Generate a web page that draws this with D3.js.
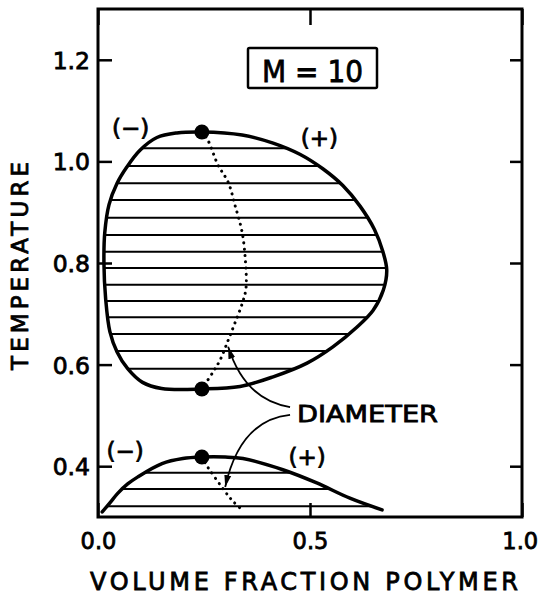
<!DOCTYPE html>
<html>
<head>
<meta charset="utf-8">
<script src="https://cdn.jsdelivr.net/npm/d3@7"></script>
<style>
  html, body { margin: 0; padding: 0; background: #fff; }
  svg { display: block; }
  text { font-family: "DejaVu Sans", sans-serif; fill: #000; stroke: #000; stroke-width: 0.8px; }
</style>
</head>
<body>
<svg id="chart" width="540" height="595"></svg>
<script>
// Phase diagram of a polymer solution, M = 10: closed miscibility loop and lower two-phase region

const xTickValues = [0, 0.5, 1.0];
const xTickLabels = ["0.0", "0.5", "1.0"];
const yTickValues = [0.4, 0.6, 0.8, 1.0, 1.2];
const yTickLabels = ["0.4", "0.6", "0.8", "1.0", "1.2"];

// Closed loop boundary (volume fraction, temperature), traversed once around
const loopPhi = [0.245, 0.150, 0.105, 0.070, 0.045, 0.028, 0.018, 0.014, 0.016, 0.026, 0.045, 0.068, 0.099, 0.139, 0.186,
                 0.245, 0.340, 0.413, 0.476, 0.531, 0.578, 0.618, 0.652, 0.672, 0.681, 0.673, 0.649, 0.611, 0.554, 0.493, 0.413, 0.335];
const loopT   = [0.552, 0.553, 0.565, 0.592, 0.625, 0.665, 0.730, 0.800, 0.860, 0.915, 0.957, 0.989, 1.022, 1.047, 1.056,
                 1.058, 1.052, 1.036, 1.014, 0.985, 0.952, 0.912, 0.866, 0.822, 0.786, 0.747, 0.707, 0.674, 0.635, 0.603, 0.576, 0.557];

// Lower coexistence curve
const lowerPhi = [0.010, 0.030, 0.047, 0.070, 0.094, 0.151, 0.200, 0.245, 0.300, 0.342, 0.436, 0.516, 0.594, 0.670];
const lowerT   = [0.310, 0.330, 0.347, 0.365, 0.379, 0.405, 0.415, 0.418, 0.418, 0.415, 0.393, 0.367, 0.337, 0.314];

// Tie lines (temperatures)
const loopTieT  = [1.026, 0.991, 0.957, 0.924, 0.889, 0.855, 0.822, 0.790, 0.757, 0.725, 0.693, 0.660, 0.627, 0.592];
const lowerTieT = [0.387, 0.355, 0.321];

// Critical points
const criticalPhi = [0.245, 0.245, 0.245];
const criticalT   = [1.058, 0.552, 0.418];

// Rectilinear diameters
const diamLoopPhi = [0.245, 0.259, 0.283, 0.307, 0.323, 0.340, 0.348, 0.349, 0.340, 0.323, 0.307, 0.288, 0.271, 0.245];
const diamLoopT   = [1.058, 1.042, 0.993, 0.959, 0.914, 0.860, 0.800, 0.750, 0.720, 0.682, 0.648, 0.609, 0.585, 0.552];
const diamLowerPhi = [0.245, 0.259, 0.292, 0.316, 0.340];
const diamLowerT   = [0.418, 0.398, 0.359, 0.333, 0.314];

// Phase sign labels
const signText = ["(−)", "(+)", "(−)", "(+)"];
const signPhi  = [0.077, 0.522, 0.064, 0.493];
const signT    = [1.050, 1.030, 0.414, 0.402];

// "DIAMETER" callout arrows: start, control, tip
const arrowPhi = [[0.453, 0.347, 0.307], [0.453, 0.335, 0.300]];
const arrowT   = [[0.5165, 0.530, 0.635], [0.501, 0.491, 0.359]];

const svg = d3.select("#chart");
const x = d3.scaleLinear().domain([0, 1]).range([98, 522]);
const y = d3.scaleLinear().domain([0.3, 1.3]).range([517, 9]);

const loopPts = loopPhi.map((p, i) => [p, loopT[i]]);
const lowerPts = lowerPhi.map((p, i) => [p, lowerT[i]]);

const closedLine = d3.line().x(d => x(d[0])).y(d => y(d[1])).curve(d3.curveCatmullRomClosed.alpha(0.5));
const openLine = d3.line().x(d => x(d[0])).y(d => y(d[1])).curve(d3.curveCatmullRom.alpha(0.5));
const lowerArea = d3.area().x(d => x(d[0])).y0(y(0.3)).y1(d => y(d[1])).curve(d3.curveCatmullRom.alpha(0.5));

const defs = svg.append("defs");
defs.append("clipPath").attr("id", "clipLoop").append("path").attr("d", closedLine(loopPts));
defs.append("clipPath").attr("id", "clipLower").append("path").attr("d", lowerArea(lowerPts));
defs.append("marker")
  .attr("id", "head").attr("viewBox", "0 0 12 8").attr("refX", 12).attr("refY", 4)
  .attr("markerWidth", 12).attr("markerHeight", 8).attr("markerUnits", "userSpaceOnUse")
  .attr("orient", "auto")
  .append("path").attr("d", "M0,0.5 L12,4 L0,7.5 Z").attr("fill", "#000");

// Tie lines
svg.append("g").attr("clip-path", "url(#clipLoop)")
  .selectAll("line").data(loopTieT).join("line")
  .attr("x1", x(0)).attr("x2", x(1)).attr("y1", d => y(d)).attr("y2", d => y(d))
  .attr("stroke", "#000").attr("stroke-width", 2);
svg.append("g").attr("clip-path", "url(#clipLower)")
  .selectAll("line").data(lowerTieT).join("line")
  .attr("x1", x(0)).attr("x2", x(1)).attr("y1", d => y(d)).attr("y2", d => y(d))
  .attr("stroke", "#000").attr("stroke-width", 2);

// Coexistence curves
svg.append("path").attr("d", closedLine(loopPts))
  .attr("fill", "none").attr("stroke", "#000").attr("stroke-width", 3.5);
svg.append("path").attr("d", openLine(lowerPts))
  .attr("fill", "none").attr("stroke", "#000").attr("stroke-width", 3.5).attr("stroke-linecap", "round");

// Diameters (dotted)
[[diamLoopPhi, diamLoopT], [diamLowerPhi, diamLowerT]].forEach(([ps, ts]) => {
  svg.append("path").attr("d", openLine(ps.map((p, i) => [p, ts[i]])))
    .attr("fill", "none").attr("stroke", "#000").attr("stroke-width", 3)
    .attr("stroke-linecap", "round").attr("stroke-dasharray", "0.1 6.2");
});

// Critical points
svg.append("g").selectAll("circle").data(criticalPhi).join("circle")
  .attr("cx", d => x(d)).attr("cy", (d, i) => y(criticalT[i])).attr("r", 7.5).attr("fill", "#000");

// Frame and ticks
const tickStyle = g => {
  g.select(".domain").remove();
  g.selectAll(".tick line").attr("stroke", "#000").attr("stroke-width", 2.5);
};
svg.append("g").attr("transform", `translate(${x(0)},0)`)
  .call(d3.axisLeft(y).tickValues(yTickValues).tickSize(-14).tickPadding(8)
    .tickFormat((d, i) => yTickLabels[i]))
  .call(tickStyle)
  .call(g => g.selectAll("text").attr("font-size", 23.5).attr("font-family", "DejaVu Sans")
    .attr("dy", "0.36em"));
svg.append("g").attr("transform", `translate(${x(1)},0)`)
  .call(d3.axisRight(y).tickValues(yTickValues).tickSize(-12).tickFormat(() => ""))
  .call(tickStyle);
svg.append("g").attr("transform", `translate(0,${y(0.3)})`)
  .call(d3.axisBottom(x).tickValues(xTickValues).tickSize(-14).tickPadding(16)
    .tickFormat((d, i) => xTickLabels[i]))
  .call(tickStyle)
  .call(g => g.selectAll("text").attr("font-size", 22.5).attr("font-family", "DejaVu Sans"))
  .call(g => g.selectAll("text").filter(d => d === 1).attr("dx", "-0.1em"));
svg.append("g").attr("transform", `translate(0,${y(1.3)})`)
  .call(d3.axisTop(x).tickValues(xTickValues).tickSize(-16).tickFormat(() => ""))
  .call(tickStyle);

svg.append("rect")
  .attr("x", x(0)).attr("y", y(1.3)).attr("width", x(1) - x(0)).attr("height", y(0.3) - y(1.3))
  .attr("fill", "none").attr("stroke", "#000").attr("stroke-width", 3);

// Axis titles
svg.append("text").attr("x", 90).attr("y", 590)
  .attr("font-size", 24).attr("textLength", 428).attr("lengthAdjust", "spacing")
  .text("VOLUME FRACTION POLYMER");
svg.append("text").attr("transform", "translate(28,266) rotate(-90)")
  .attr("text-anchor", "middle").attr("font-size", 23)
  .attr("textLength", 208).attr("lengthAdjust", "spacing")
  .text("TEMPERATURE");

// Sign labels
svg.append("g").selectAll("text").data(signText).join("text")
  .attr("x", (d, i) => x(signPhi[i])).attr("y", (d, i) => y(signT[i]))
  .attr("text-anchor", "middle").attr("font-size", 23)
  .text(d => d);

// Chain-length box
svg.append("rect").attr("x", 248).attr("y", 48).attr("width", 129).attr("height", 40)
  .attr("fill", "none").attr("stroke", "#000").attr("stroke-width", 2.5).attr("rx", 1.5);
svg.append("text").attr("x", 262).attr("y", 82)
  .attr("font-size", 30).attr("textLength", 101).attr("lengthAdjust", "spacingAndGlyphs")
  .text("M = 10");

// DIAMETER callout
svg.append("text").attr("x", 297).attr("y", 422)
  .attr("font-size", 23).attr("textLength", 141).attr("lengthAdjust", "spacingAndGlyphs")
  .text("DIAMETER");
arrowPhi.forEach((ps, i) => {
  const ts = arrowT[i];
  const p = d3.path();
  p.moveTo(x(ps[0]), y(ts[0]));
  p.quadraticCurveTo(x(ps[1]), y(ts[1]), x(ps[2]), y(ts[2]));
  svg.append("path").attr("d", p.toString())
    .attr("fill", "none").attr("stroke", "#000").attr("stroke-width", 1.8)
    .attr("marker-end", "url(#head)");
});
</script>
</body>
</html>
